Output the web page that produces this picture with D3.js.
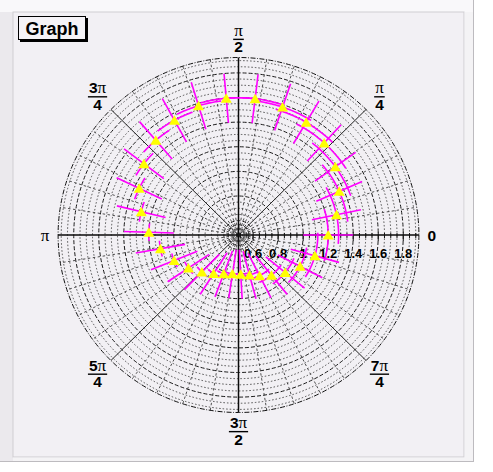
<!DOCTYPE html>
<html>
<head>
<meta charset="utf-8">
<script src="https://cdn.jsdelivr.net/npm/d3@7"></script>
<style>
  body { margin: 0; background: #ffffff; }
  svg { display: block; }
</style>
</head>
<body>
<svg id="chart" width="493" height="472"></svg>
<script>
// Polar graph with errors: angle (rad), radius, angular error (rad), radial error
const theta = [0.0000, 0.2073, 0.4147, 0.6220, 0.8294, 1.0367, 1.2441, 1.4514, 1.6588, 1.8661,
               2.0735, 2.2808, 2.4881, 2.6955, 2.9028, 3.1102, 3.3175, 3.5249, 3.7322, 3.9396,
               4.1469, 4.3543, 4.5616, 4.7689, 4.9763, 5.1836, 5.3910, 5.5983, 5.8057, 6.0130];
const radius = [1.2000, 1.2832, 1.3627, 1.4351, 1.4973, 1.5464, 1.5804, 1.5978, 1.5978, 1.5804,
                1.5464, 1.4973, 1.4351, 1.3627, 1.2832, 1.2000, 1.1168, 1.0373, 0.9649, 0.9027,
                0.8536, 0.8196, 0.8022, 0.8022, 0.8196, 0.8536, 0.9027, 0.9649, 1.0373, 1.1168];
const thetaErr = [0.3000, 0.2978, 0.2914, 0.2809, 0.2669, 0.2500, 0.2309, 0.2105, 0.1895, 0.1691,
                  0.1500, 0.1331, 0.1191, 0.1087, 0.1022, 0.1000, 0.1022, 0.1087, 0.1191, 0.1331,
                  0.1500, 0.1691, 0.1895, 0.2105, 0.2309, 0.2500, 0.2669, 0.2809, 0.2914, 0.2978];
const radiusErr = [0.2, 0.2, 0.2, 0.2, 0.2, 0.2, 0.2, 0.2, 0.2, 0.2,
                   0.2, 0.2, 0.2, 0.2, 0.2, 0.2, 0.2, 0.2, 0.2, 0.2,
                   0.2, 0.2, 0.2, 0.2, 0.2, 0.2, 0.2, 0.2, 0.2, 0.2];

// Radial axis
const radialRange = [0.483, 1.925];
const radialTicks = [0.6, 0.8, 1.0, 1.2, 1.4, 1.6, 1.8];
const radialTickLabels = ["0.6", "0.8", "1", "1.2", "1.4", "1.6", "1.8"];
const radialGridStart = 0.4;      // first optimized division (below range start)
const radialMinorStep = 0.05;
const radialMajorStep = 0.2;

// Polar axis: eight major divisions, five minor each
const polarTickNum = ["0", "\u03c0", "\u03c0", "3\u03c0", "\u03c0", "5\u03c0", "3\u03c0", "7\u03c0"];
const polarTickDen = [null, "4", "2", "4", null, "4", "2", "4"];
const polarMajorCount = 8;
const polarMinorPerMajor = 5;

const title = "Graph";

// ---------------------------------------------------------------
const svg = d3.select("#chart");
const cx = 238.5, cy = 235, RX = 180.4, RY = 177.5;

const rNorm = d3.scaleLinear().domain(radialRange).range([0, 1]);
const sx = d3.scaleLinear().domain([-1, 1]).range([cx - RX, cx + RX]);
const sy = d3.scaleLinear().domain([-1, 1]).range([cy + RY, cy - RY]);
const toXY = (u, t) => [sx(u * Math.cos(t)), sy(u * Math.sin(t))];

// Canvas and pad frame
svg.append("rect").attr("x", 0).attr("y", 0).attr("width", 474).attr("height", 462).attr("fill", "#ebe9ed");
svg.append("rect").attr("x", 0).attr("y", 0).attr("width", 474).attr("height", 12).attr("fill", "#f9f8fa");
svg.append("rect").attr("x", 13).attr("y", 12).attr("width", 451).attr("height", 445)
   .attr("fill", "#f2f0f4").attr("stroke", "#cfcdd1").attr("stroke-width", 1);
svg.append("rect").attr("x", 464.5).attr("y", 12).attr("width", 9).attr("height", 450).attr("fill", "#f4f3f5");
svg.append("rect").attr("x", 13).attr("y", 457.5).attr("width", 461).attr("height", 4.5).attr("fill", "#f4f3f5");
svg.append("line").attr("x1", 473.5).attr("x2", 473.5).attr("y1", 0).attr("y2", 462)
   .attr("stroke", "#bdbbbf").attr("stroke-width", 1);
svg.append("line").attr("x1", 0).attr("x2", 474).attr("y1", 461.5).attr("y2", 461.5)
   .attr("stroke", "#bdbbbf").attr("stroke-width", 1);

const grid = svg.append("g");

// Radial circles (values below the range start fold back around the centre)
const nSteps = Math.round((radialRange[1] - radialGridStart) / radialMinorStep);
const circleVals = d3.range(0, nSteps + 1).map(k => +(radialGridStart + k * radialMinorStep).toFixed(3));
circleVals.forEach(v => {
  const u = Math.abs(rNorm(v));
  if (u > 1 || u < 0.004) return;
  const isMajor = Math.abs(v / radialMajorStep - Math.round(v / radialMajorStep)) < 1e-6;
  grid.append("ellipse")
    .attr("cx", cx).attr("cy", cy)
    .attr("rx", sx(u) - sx(0)).attr("ry", sy(0) - sy(u))
    .attr("fill", "none")
    .attr("stroke", isMajor ? "#1a1a1a" : "#3c3c3c")
    .attr("stroke-width", isMajor ? 1 : 0.9)
    .attr("stroke-dasharray", isMajor ? "4,2" : "1.5,2");
});

// Minor polar divisions
const nPolar = polarMajorCount * polarMinorPerMajor;
d3.range(nPolar).forEach(k => {
  if (k % polarMinorPerMajor === 0) return;
  const t = k * 2 * Math.PI / nPolar;
  const [x2, y2] = toXY(1, t);
  grid.append("line").attr("x1", cx).attr("y1", cy).attr("x2", x2).attr("y2", y2)
    .attr("stroke", "#3c3c3c").attr("stroke-width", 0.9).attr("stroke-dasharray", "2.5,2.5");
});

// Outer circle
grid.append("ellipse").attr("cx", cx).attr("cy", cy)
  .attr("rx", RX).attr("ry", RY).attr("fill", "none")
  .attr("stroke", "#111").attr("stroke-width", 1).attr("stroke-dasharray", "5,1.5,1,1.5");

// Major polar divisions
d3.range(polarMajorCount).forEach(k => {
  const t = k * 2 * Math.PI / polarMajorCount;
  const [x2, y2] = toXY(1, t);
  const onAxis = k % 2 === 0;
  grid.append("line").attr("x1", cx).attr("y1", cy).attr("x2", x2).attr("y2", y2)
    .attr("stroke", onAxis ? "#0a0a0a" : "#202020")
    .attr("stroke-width", onAxis ? 1.5 : 1);
});

// Radial axis ticks and labels along angle 0
const axisG = svg.append("g");
circleVals.filter(v => v >= radialRange[0] && v <= radialRange[1]).forEach(v => {
  const isMajor = Math.abs(v / radialMajorStep - Math.round(v / radialMajorStep)) < 1e-6;
  const x = sx(rNorm(v));
  axisG.append("line").attr("x1", x).attr("x2", x)
    .attr("y1", cy - (isMajor ? 3 : 2)).attr("y2", cy + (isMajor ? 6 : 3))
    .attr("stroke", "#111").attr("stroke-width", 1);
});
axisG.selectAll("text.rlab").data(radialTicks).join("text")
  .attr("class", "rlab")
  .attr("x", d => sx(rNorm(d)))
  .attr("y", cy + 23)
  .attr("text-anchor", "middle")
  .attr("font-family", "Liberation Sans, Arial, sans-serif")
  .attr("font-weight", "bold")
  .attr("font-size", 13)
  .attr("fill", "#000")
  .text((d, i) => radialTickLabels[i]);

// Polar labels
const labG = svg.append("g");
const digitFont = "Liberation Sans, Arial, sans-serif";
const piFont = "Liberation Serif, DejaVu Serif, serif";
function writeNum(sel, s) {
  // digits in bold sans, pi in a symbol-like serif
  for (const ch of s) {
    const isPi = ch === "\u03c0";
    sel.append("tspan")
      .attr("font-family", isPi ? piFont : digitFont)
      .attr("font-weight", isPi ? "normal" : "bold")
      .attr("font-size", isPi ? 17 : 15.5)
      .text(ch);
  }
}
d3.range(polarMajorCount).forEach(k => {
  const t = k * 2 * Math.PI / polarMajorCount;
  const num = polarTickNum[k], den = polarTickDen[k];
  if (den === null) {
    const [x, y] = toXY(1.072, t);
    const txt = labG.append("text").attr("x", x).attr("y", y + 5.5)
      .attr("text-anchor", "middle").attr("fill", "#000");
    writeNum(txt, num);
  } else {
    const [x, y] = toXY(1.105, t);
    const nt = labG.append("text").attr("x", x).attr("y", y - 3)
      .attr("text-anchor", "middle").attr("fill", "#000");
    writeNum(nt, num);
    const w = nt.node().getComputedTextLength() + 2;
    labG.append("line").attr("x1", x - w / 2).attr("x2", x + w / 2)
      .attr("y1", y + 0.5).attr("y2", y + 0.5)
      .attr("stroke", "#000").attr("stroke-width", 1.4);
    const dt = labG.append("text").attr("x", x).attr("y", y + 13.5)
      .attr("text-anchor", "middle").attr("fill", "#000");
    writeNum(dt, den);
  }
});

// Error bars: radial lines and angular arcs
const errG = svg.append("g").attr("fill", "none").attr("stroke", "#ff00ff").attr("stroke-width", 1.6);
theta.forEach((t, i) => {
  const a = toXY(rNorm(radius[i] - radiusErr[i]), t);
  const b = toXY(rNorm(radius[i] + radiusErr[i]), t);
  errG.append("line").attr("x1", a[0]).attr("y1", a[1]).attr("x2", b[0]).attr("y2", b[1]);
});
const arcLine = d3.line();
theta.forEach((t, i) => {
  const u = rNorm(radius[i]);
  const pts = d3.range(0, 41).map(j => toXY(u, t - thetaErr[i] + (2 * thetaErr[i]) * j / 40));
  errG.append("path").attr("d", arcLine(pts));
});

// Markers: filled upward triangles
const markG = svg.append("g");
markG.selectAll("path").data(theta).join("path")
  .attr("transform", (t, i) => {
    const [x, y] = toXY(rNorm(radius[i]), t);
    return `translate(${x},${y})`;
  })
  .attr("d", "M-5.5,4.5L5.5,4.5L0,-5Z")
  .attr("fill", "#ffff00");

// Title box
const tg = svg.append("g");
tg.append("rect").attr("x", 20).attr("y", 18).attr("width", 68).attr("height", 24).attr("fill", "#000");
tg.append("rect").attr("x", 18.5).attr("y", 16.5).attr("width", 67).attr("height", 23)
  .attr("fill", "#f5f3f7").attr("stroke", "#000").attr("stroke-width", 1);
tg.append("text").attr("x", 52).attr("y", 34.5).attr("text-anchor", "middle")
  .attr("font-family", "Liberation Sans, Arial, sans-serif").attr("font-weight", "bold")
  .attr("font-size", 18).attr("fill", "#000").text(title);
</script>
</body>
</html>
